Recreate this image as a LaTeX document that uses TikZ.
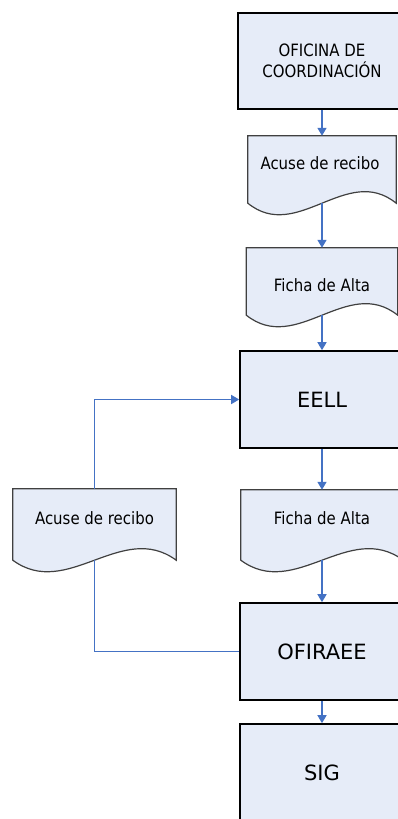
\documentclass[tikz,border=0pt]{standalone}
\usepackage{fontspec}
\setmainfont{DejaVu Sans}
\newfontfamily\narrowfont[FakeStretch=0.88]{DejaVu Sans}
\usetikzlibrary{arrows.meta,calc}
\definecolor{boxfill}{RGB}{230,236,248}
\definecolor{flowblue}{RGB}{68,114,196}
\newcommand{\docoutline}[1]{%
  \path[docline] (#1.north west) -- (#1.north east) -- (#1.south east)
    .. controls ($(#1.south east)!0.333!(#1.south west)+(0,-40)$) and ($(#1.south east)!0.667!(#1.south west)+(0,40)$) .. (#1.south west) -- cycle;}
\tikzset{
  procbox/.style={draw=black, line width=1.6pt, fill=boxfill, minimum width=164pt, minimum height=97pt, inner sep=0pt, font=\fontsize{21}{25}\selectfont},
  docbox/.style={draw=none, inner sep=0pt},
  docline/.style={draw=black!75, line width=1.2pt, fill=boxfill},
  smalltext/.style={inner sep=0pt, align=center, font=\narrowfont\fontsize{17}{21}\selectfont},
  flow/.style={draw=flowblue, line width=1.5pt, -{Triangle[length=8pt,width=9pt]}},
  flowline/.style={draw=flowblue, line width=1.5pt},
}
\begin{document}
\begin{tikzpicture}[x=1pt,y=-1pt]
\path[use as bounding box] (0,0) rectangle (398,819);
\clip (0,0) rectangle (398,819);
% process boxes
\node[procbox, minimum width=168pt, minimum height=96pt, font=\narrowfont\fontsize{17}{21}\selectfont, align=center] (coord) at (322,61) {OFICINA DE\\COORDINACIÓN};
\node[procbox] (eell) at (322,399.5) {EELL};
\node[procbox] (ofi) at (322,651.5) {OFIRAEE};
\node[procbox] (sig) at (322,772.5) {SIG};
% documents
\node[docbox, minimum width=148pt, minimum height=67pt] (d1) at (322,169.5) {};
\docoutline{d1}
\node[smalltext] (d1t) at (320,163) {Acuse de recibo};
\node[docbox, minimum width=151pt, minimum height=67pt] (d2) at (322,281.5) {};
\docoutline{d2}
\node[smalltext] (d2t) at (322,285.5) {Ficha de Alta};
\node[docbox, minimum width=162pt, minimum height=70pt] (d3) at (322,525) {};
\docoutline{d3}
\node[smalltext] (d3t) at (322,518.5) {Ficha de Alta};
\node[docbox, minimum width=163pt, minimum height=71pt] (d4) at (94.5,524.5) {};
\docoutline{d4}
\node[smalltext] (d4t) at (94.5,518.5) {Acuse de recibo};
% connectors
\draw[flow] (coord.south) -- (d1.north);
\draw[flow] (d1.south) -- (d2.north);
\draw[flow] (d2.south) -- (eell.north);
\draw[flow] (eell.south) -- (d3.north);
\draw[flow] (d3.south) -- (ofi.north);
\draw[flow] (ofi.south) -- (sig.north);
\draw[flow] (d4.north) |- (eell.west);
\draw[flowline] (ofi.west) -| (d4.south);
\end{tikzpicture}
\end{document}
